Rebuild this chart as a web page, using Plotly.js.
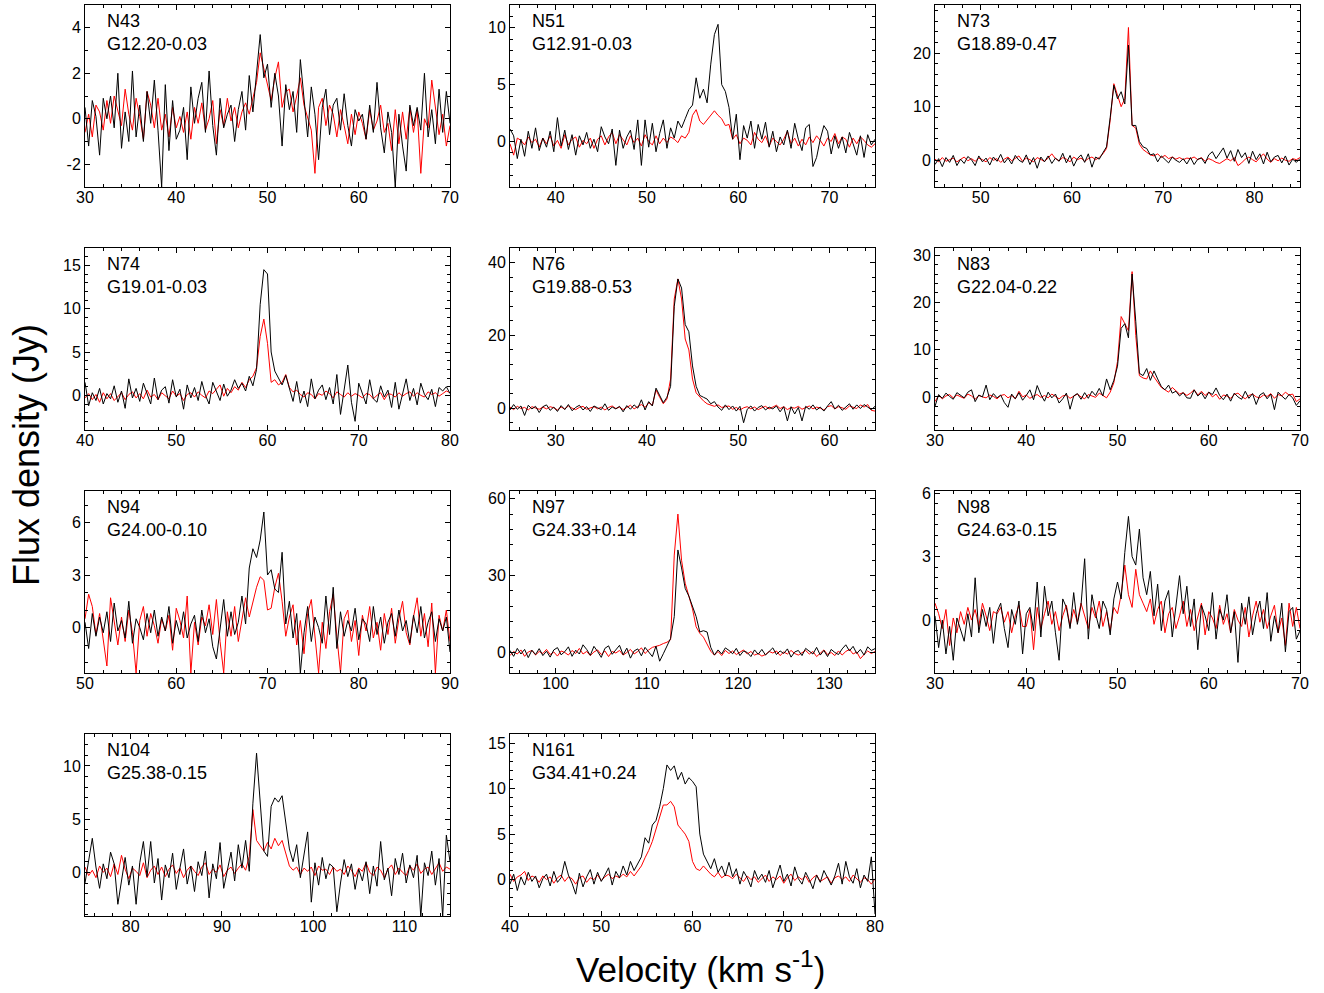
<!DOCTYPE html>
<html>
<head>
<meta charset="utf-8">
<script src="https://cdn.plot.ly/plotly-3.0.1.min.js"></script>
<style>html,body{margin:0;padding:0;background:#fff;}#chart{width:1324px;height:993px;}</style>
</head>
<body>
<div id="chart"></div>
<script>
// ---------------- DATA ----------------
const sourceNames = ['N43','N51','N73','N74','N76','N83','N94','N97','N98','N104','N161'];
const sourceGlon  = ['G12.20-0.03','G12.91-0.03','G18.89-0.47','G19.01-0.03','G19.88-0.53','G22.04-0.22','G24.00-0.10','G24.33+0.14','G24.63-0.15','G25.38-0.15','G34.41+0.24'];
// first channel velocity (km/s) of each spectrum, channel width 0.4 km/s
const velStart = [30,35,45,40,25,30,50,95,30,75,40];
const velStep = 0.4;
const xRanges = [[30,70],[35,75],[45,85],[40,80],[25,65],[30,70],[50,90],[95,135],[30,70],[75,115],[40,80]];
const yRanges = [[-3,5],[-4,12],[-5,29],[-4,17],[-6,44],[-7,31.5],[-2.6,7.8],[-8,63],[-2.5,6.1],[-4.1,13],[-4,16]];
const yTickVals = [[-2,0,2,4],[0,5,10],[0,10,20],[0,5,10,15],[0,20,40],[0,10,20,30],[0,3,6],[0,30,60],[0,3,6],[0,5,10],[0,5,10,15]];
const yMinorStep = [1,1,2,1,4,2,1,6,0.5,1,1];

const black_N43 = [0.5,-1.2,0.8,0.1,-1.6,0.9,0.0,1.0,-0.4,2.0,
-1.3,0.3,-1.0,2.1,-0.8,0.6,-1.0,1.2,-0.2,1.7,
-0.5,-3.0,1.5,-1.4,0.8,-0.9,-0.5,0.5,-1.8,1.4,
-0.2,0.9,1.6,-0.6,2.1,-0.3,-1.6,0.9,-0.4,0.2,
0.6,-1.0,0.4,1.2,-0.5,1.9,0.3,2.0,3.7,1.8,
2.4,0.5,2.0,1.0,-1.2,1.5,0.4,1.2,-0.6,2.6,
0.8,-0.8,1.4,0.2,-1.8,0.5,1.3,-0.7,0.6,0.9,
-0.5,1.1,-0.3,-1.2,0.4,-0.1,0.2,-0.9,0.6,-0.6,
1.6,-0.4,-1.5,0.3,-0.6,-3.0,0.2,-1.2,-2.3,0.6,
-0.3,0.5,-0.5,2.0,-0.8,0.4,-1.1,1.3,-0.6,1.2,
-0.2];
const red_N43 = [-0.6,0.2,-0.8,0.6,0.3,-0.5,0.8,-0.2,1.0,0.4,
-0.3,1.3,0.2,-0.5,0.9,0.1,-0.9,1.2,0.6,-0.4,
0.9,-0.5,0.2,-0.8,0.5,-0.4,0.1,-0.6,0.3,-0.9,
0.5,-0.2,0.7,-0.5,0.0,0.8,-1.1,0.4,-0.3,0.9,
-0.1,0.5,-0.4,0.3,0.7,0.2,0.9,1.6,2.9,2.2,
1.4,0.8,1.8,2.5,0.5,1.2,1.3,0.3,1.0,1.8,
0.6,0.1,-0.5,-2.4,0.5,0.9,-0.3,0.6,0.2,-0.8,
0.4,-0.3,-1.1,0.2,-0.7,0.3,-0.2,-0.9,0.4,-0.5,
-0.1,0.6,-0.6,-0.2,-1.4,0.4,-1.1,0.3,-0.9,0.5,
-0.6,0.4,-2.4,0.0,-0.4,1.7,0.5,-0.7,0.2,-1.2,
-0.3];

const black_N51 = [1.1,0.5,-1.5,0.2,-1.3,0.9,-0.6,1.2,-0.8,0.3,
-0.5,0.9,-0.9,2.1,-0.4,1.0,-0.7,0.6,-1.2,0.5,
-0.3,0.8,-0.6,0.2,-0.9,1.3,0.4,-0.2,1.1,-2.1,
1.0,-0.6,0.4,1.0,-0.7,1.9,-2.1,1.9,-0.5,1.6,
-0.9,0.7,1.9,-0.6,1.2,0.3,1.8,1.2,2.0,2.8,
3.2,5.6,3.8,4.6,3.4,6.8,9.4,10.3,5.0,4.4,
3.0,0.2,2.4,-1.6,1.4,0.3,1.8,-0.6,1.5,0.2,
1.7,-0.5,0.9,-0.9,0.4,-0.3,1.0,-0.6,1.6,0.2,
-0.8,1.2,1.5,-2.2,-1.4,0.2,1.4,0.9,-1.1,0.5,
-0.6,0.4,-1.0,0.8,-0.2,-1.2,0.5,-1.4,0.6,-0.3,
0.2];
const red_N51 = [-0.2,-1.2,0.3,0.1,-0.3,0.4,-0.1,0.2,-0.5,0.3,
-0.2,0.5,-0.4,0.1,-0.6,0.6,-0.3,0.2,0.4,-0.5,
0.1,-0.2,0.3,-0.6,0.2,0.5,-0.3,0.4,0.8,-0.2,
0.6,0.1,-0.3,0.5,-0.1,0.3,-0.4,0.6,0.0,-0.3,
0.5,-0.2,0.3,-0.1,0.4,0.2,-0.1,0.5,0.3,0.8,
2.3,2.8,1.8,1.5,1.9,2.4,2.7,2.3,2.0,1.4,
1.5,0.2,0.6,-0.2,0.3,0.1,-0.3,0.8,0.2,-0.1,
0.5,-0.4,0.3,0.0,-0.3,0.2,0.9,-0.2,0.3,-0.4,
0.2,-0.3,0.4,-0.1,0.5,0.1,-0.4,0.3,0.0,0.7,
-0.2,0.4,0.2,-0.5,0.3,-0.2,0.4,0.1,-0.3,-0.5,
-0.2];

const black_N73 = [-0.8,0.3,-1.2,0.5,-0.4,0.9,-1.0,0.2,-0.6,0.7,
0.1,-1.0,0.8,-0.3,0.4,-0.9,0.6,-0.2,1.1,-0.5,
0.4,-0.7,0.9,0.0,-0.4,1.0,-0.8,0.5,-1.5,0.6,
-0.3,0.8,-0.6,0.4,-0.2,1.3,-0.5,0.9,-1.1,0.3,
1.0,-0.4,1.2,-1.3,0.6,0.2,1.4,2.5,8.0,14.0,
11.5,12.8,10.5,21.5,6.5,6.5,3.5,2.5,2.2,1.0,
1.2,-0.3,0.8,0.2,-0.5,0.6,0.0,-0.4,0.3,-0.7,
0.5,-0.8,0.2,0.4,-0.6,1.0,1.6,0.3,1.2,2.3,
0.4,1.8,-0.2,2.0,0.5,1.4,-0.6,1.7,0.1,1.2,
-0.7,1.5,-0.3,0.6,0.9,-0.5,0.8,-0.9,0.2,-0.4,
0.3];
const red_N73 = [0.2,-0.3,0.5,-0.2,0.1,0.4,-0.3,0.2,0.6,-0.1,
0.3,-0.2,0.4,0.1,-0.3,0.5,0.0,0.3,-0.4,0.2,
0.6,-0.1,0.3,0.8,-0.2,0.4,0.1,-0.3,0.5,0.2,
-0.2,0.4,1.2,0.3,-0.1,0.5,0.2,-0.3,0.6,0.1,
0.4,-0.2,0.3,0.6,0.1,0.5,1.2,2.2,7.5,14.3,
12.0,10.0,11.5,24.8,6.5,6.0,3.0,2.0,1.5,1.0,
0.8,1.2,0.5,0.9,0.3,0.6,0.2,0.5,0.1,0.4,
0.3,0.6,0.1,0.5,-0.2,0.3,0.0,-0.4,-0.6,-0.2,
0.3,-0.1,0.5,-1.0,-0.5,0.2,0.6,0.1,-0.3,0.5,
1.2,0.2,-0.4,0.3,-0.1,0.4,0.0,-0.2,0.3,0.1,
0.5];

const black_N74 = [1.5,-1.2,0.3,-0.6,0.8,-1.0,0.2,-0.4,1.1,-0.8,
0.5,-1.5,1.9,-0.3,0.8,-0.7,1.4,0.2,-1.0,2.0,
-0.5,0.6,1.0,-0.9,1.8,-0.2,0.7,-1.6,1.2,-0.3,
0.9,-0.6,1.6,0.0,-1.0,1.5,0.4,-0.6,1.3,-0.1,
0.6,1.8,0.8,1.4,0.5,2.2,1.1,3.0,10.5,14.5,
14.0,5.0,2.8,2.0,1.2,2.3,0.8,-0.7,1.6,-0.9,
0.5,-1.3,1.9,-0.4,0.6,1.2,-0.5,0.9,-1.0,2.4,
-2.2,0.7,3.5,-0.8,-3.0,1.4,0.2,-1.0,1.8,-0.4,
-0.8,1.1,-0.2,0.6,-1.4,1.5,-1.6,0.3,1.9,-0.6,
0.8,-1.1,1.4,0.1,-0.5,0.7,-1.3,0.9,0.5,1.0,
0.2];
const red_N74 = [-0.3,0.2,-0.5,0.1,-0.8,0.3,-0.4,0.2,-0.6,-0.2,
0.3,-0.5,0.1,0.4,-0.3,0.2,-0.4,0.6,-0.2,0.1,
-0.5,0.3,0.0,-0.4,0.5,-0.1,0.2,-0.6,0.1,0.3,
-0.2,0.4,0.0,-0.3,0.5,0.2,0.7,1.2,-0.1,0.8,
0.3,1.0,0.6,1.5,0.9,1.8,2.2,3.2,6.8,8.8,
6.0,1.5,1.8,1.2,1.5,2.4,0.9,0.4,0.6,0.1,
-0.2,0.3,0.1,-0.4,0.2,0.0,0.5,0.2,-0.3,0.4,
0.1,-0.2,0.3,-0.1,0.2,0.0,-0.3,0.2,0.1,-0.4,
0.0,0.3,-0.5,0.2,0.1,-0.2,0.3,-0.1,0.2,0.4,
-0.1,0.3,0.0,-0.2,0.4,0.1,0.3,-0.1,0.2,0.5,
0.3];

const black_N76 = [-0.5,1.0,-0.3,0.6,-2.0,0.8,-0.2,0.5,-1.2,0.4,
0.9,-0.6,0.3,-0.9,0.7,-0.4,1.0,-0.7,0.2,0.8,
-0.5,0.4,-0.9,0.6,0.1,-0.4,1.2,-0.6,0.3,-0.2,
0.5,-1.0,0.7,-0.3,0.9,0.0,2.3,-0.5,1.8,0.6,
5.5,3.5,1.5,3.0,6.0,28.0,35.5,33.0,23.0,21.0,
11.6,6.0,3.5,3.0,2.5,1.2,1.8,0.3,-0.6,0.9,
-0.4,0.6,-0.8,0.5,-4.0,-0.3,0.6,-0.8,0.2,0.7,
-0.5,0.3,-0.2,0.6,-1.0,0.4,-3.5,0.4,-1.6,0.2,
-3.5,0.5,-0.3,0.9,-0.5,0.3,-0.8,0.6,1.8,-0.2,
0.8,-0.6,0.4,1.2,-0.3,0.9,-0.1,1.0,0.3,-0.4,
0.5];
const red_N76 = [0.3,-0.4,0.5,-0.1,0.2,-0.5,0.4,0.0,-0.3,0.3,
-0.2,0.4,0.1,-0.5,0.3,-0.2,0.6,0.0,-0.4,0.2,
0.5,-0.3,0.1,0.4,-0.2,0.3,-0.5,0.2,0.6,-0.1,
0.3,-0.4,0.2,0.8,-0.2,0.5,1.0,0.2,1.5,0.8,
5.0,3.0,1.2,2.5,8.0,30.0,35.5,30.0,19.0,16.0,
8.0,4.2,3.0,2.0,1.2,0.8,0.5,0.9,0.2,0.4,
0.6,-0.3,0.2,-0.5,0.1,0.4,-0.2,0.3,-0.4,0.1,
0.5,-0.2,0.3,0.8,-0.1,0.4,-0.4,0.2,0.0,0.5,
-0.3,0.2,0.6,-0.2,0.3,0.0,-0.5,0.4,0.7,-0.2,
0.4,0.1,-0.3,0.6,0.2,-0.1,0.9,0.3,1.0,-0.6,
-0.8];

const black_N83 = [-2.0,0.5,-0.3,0.8,0.1,-0.5,0.9,0.3,-0.2,1.0,
1.5,-1.0,0.4,0.0,2.5,-0.6,0.7,-0.2,0.4,-1.2,
-2.2,0.6,-0.4,0.9,-0.7,0.3,1.5,-0.6,2.4,0.5,
-0.9,1.0,-0.2,0.6,-1.3,-0.4,0.8,-2.6,0.2,0.7,
-0.5,0.9,-0.3,1.2,0.3,1.8,0.2,3.8,1.5,3.5,
6.5,14.5,15.5,12.5,26.0,16.0,5.0,4.5,6.0,3.5,
5.5,3.8,2.2,1.5,2.5,0.8,1.2,0.2,0.9,-0.2,
-0.3,1.5,0.2,0.9,-0.4,1.0,0.5,1.9,0.3,-0.6,
0.6,-0.9,0.8,0.0,-0.5,1.2,-0.3,0.7,-1.6,0.4,
0.9,-0.4,0.6,-2.7,1.0,0.2,-0.5,0.5,-0.2,-1.8,
-0.8];
const red_N83 = [-1.0,0.3,-0.4,0.2,0.5,-0.2,0.4,0.1,-0.3,0.6,
0.2,-0.5,0.3,0.0,-0.2,0.4,0.1,-0.4,0.3,0.5,
-0.2,0.3,-0.4,1.2,0.0,0.4,-0.3,0.2,0.5,-0.1,
0.3,-0.2,0.6,0.1,-0.4,0.2,0.4,-0.3,0.1,0.6,
0.0,-0.4,0.5,0.2,-0.1,0.8,0.3,-0.2,1.0,3.0,
7.5,17.0,15.5,14.0,26.5,13.0,4.5,4.0,3.8,5.5,
4.2,3.0,2.0,1.5,1.0,2.0,1.2,0.6,0.9,0.3,
0.8,1.5,0.4,1.2,0.3,1.0,0.0,0.6,-0.5,0.4,
0.2,-0.3,0.5,0.8,0.1,-0.4,0.3,0.6,0.0,-0.2,
0.4,0.1,0.7,-0.3,0.5,0.2,1.0,0.4,0.6,-1.0,
-0.4];

const black_N94 = [0.3,-1.2,0.8,-0.5,0.6,-0.3,0.9,-0.8,1.4,-0.2,
0.4,-0.6,1.5,-0.9,0.5,0.0,-0.7,0.8,-0.3,1.0,
-0.5,0.6,-0.2,1.2,-0.9,0.4,-0.4,0.9,-0.6,0.2,
0.7,-0.8,1.0,-0.3,0.5,-1.1,-1.8,0.0,1.6,-0.5,
0.9,-0.4,0.3,1.8,0.2,3.4,4.5,4.0,5.0,6.6,
3.0,3.3,2.2,2.0,4.3,0.2,1.5,-0.6,0.8,-2.6,
-0.3,1.2,-0.8,0.6,0.0,-0.9,1.8,-0.4,2.3,-1.2,
0.9,-0.5,0.4,-0.2,1.1,-0.7,0.5,0.2,-0.8,1.2,
-0.4,0.6,-0.9,0.3,0.8,-0.5,1.0,-0.2,0.4,-0.9,
0.7,-0.3,1.2,-0.6,0.3,0.9,-0.8,0.5,-0.2,0.6,
-1.4];
const red_N94 = [0.5,1.9,1.2,-0.4,0.8,-0.6,-2.2,1.7,0.3,-1.0,
0.6,-0.8,1.0,-0.3,-2.6,0.4,1.2,-0.5,0.8,0.1,
-0.9,0.5,-0.2,0.7,-1.3,1.1,0.4,-0.6,1.8,-2.6,
0.3,-1.0,0.6,0.1,1.3,-0.4,1.6,-0.8,-2.6,0.9,
-0.5,1.2,-0.8,0.5,1.7,0.6,1.5,2.3,2.9,2.7,
1.0,1.1,2.3,3.1,1.5,-0.5,0.6,1.3,-1.0,0.4,
-1.5,0.8,1.6,-0.6,-2.6,0.3,-1.2,0.9,1.9,-0.5,
-2.6,0.5,1.0,-0.8,0.4,-1.6,0.7,-0.2,1.2,-0.6,
0.3,-1.3,0.8,-0.4,1.1,-0.9,0.5,1.5,-0.3,-1.0,
0.6,1.7,-0.5,0.8,-1.1,1.4,-2.6,0.7,-0.2,1.0,
-0.8];

const black_N97 = [0.8,-1.5,1.6,-0.6,1.2,-2.0,0.9,-0.8,1.5,-1.2,
0.5,-1.8,1.0,1.9,-0.9,0.3,2.2,-1.5,0.9,-0.6,
3.0,1.2,-1.1,2.4,0.4,-1.9,1.6,2.6,-0.7,1.0,
2.8,-0.9,1.7,-2.2,0.6,1.4,-1.3,2.0,0.3,-1.6,
2.5,-3.4,-0.5,2.5,5.5,14.0,40.0,33.0,25.0,22.0,
18.0,14.0,8.0,8.5,8.0,2.0,-1.0,1.0,-0.6,1.8,
0.8,-0.5,1.6,-1.2,0.6,0.0,-1.6,1.0,-0.7,1.2,
-1.0,0.4,1.8,-0.8,0.6,-0.4,1.4,-1.8,0.2,0.8,
-1.2,1.6,0.4,-0.6,2.0,-1.0,0.8,-1.6,1.2,0.0,
-0.8,1.4,3.0,0.6,2.4,-0.4,1.2,-1.0,2.2,0.8,
1.5];
const red_N97 = [-1.2,0.4,-0.6,1.0,-1.5,0.2,0.8,-1.0,0.4,-0.4,
1.2,-0.8,0.2,-1.4,0.6,0.0,-1.0,0.8,-0.4,1.6,
-0.6,0.4,-1.2,0.2,1.0,-0.8,0.6,-1.6,0.4,-0.2,
0.8,-1.0,0.0,1.2,-0.6,0.4,1.8,-0.4,1.0,2.0,
2.4,2.8,3.5,4.0,5.0,38.0,54.0,36.0,27.0,22.0,
17.0,10.0,7.5,6.0,3.0,0.5,-1.0,0.4,-1.2,0.8,
-0.4,0.6,-0.8,0.2,1.0,-0.6,0.4,-1.0,-0.4,-1.4,
-0.8,0.4,-0.2,0.6,-1.2,0.2,-0.6,0.8,-0.4,-1.0,
-0.2,0.8,-0.6,0.4,-1.6,-0.4,1.0,-0.8,0.0,-1.2,
0.6,-1.0,0.4,1.2,-0.6,0.2,-2.4,-0.8,0.6,-0.4,
0.4];

const black_N98 = [0.2,-1.3,0.0,-1.6,-0.3,-1.9,0.1,-0.5,-1.0,0.3,
-0.8,2.0,-0.6,0.5,-0.3,0.6,-1.1,0.4,0.8,-0.4,
-1.3,0.5,-0.2,0.9,-1.6,0.3,0.6,-0.5,1.8,-0.8,
1.6,0.2,0.9,-0.6,-1.9,1.0,0.6,-0.4,1.3,-0.2,
0.7,2.9,-0.9,1.2,0.3,-0.4,0.9,0.5,-0.7,1.0,
1.8,1.0,3.2,4.9,3.0,2.6,4.3,2.0,1.2,2.3,
0.2,1.7,-0.5,0.9,1.4,-0.8,0.6,2.1,0.3,1.6,
-0.3,1.0,-1.4,0.7,0.2,-0.5,1.3,-0.9,0.5,0.0,
1.2,-0.6,0.4,-2.0,0.8,-0.2,1.1,-0.7,0.3,0.9,
-0.4,1.3,-1.0,0.2,-0.6,0.8,-1.5,0.4,0.6,-0.9,
-0.5];
const red_N98 = [0.8,0.3,-0.4,0.5,-1.2,0.1,-0.6,0.4,-0.2,0.6,
0.0,0.5,-0.3,0.8,0.2,-0.5,0.4,0.3,0.6,-0.1,
0.4,-0.6,0.2,0.7,-0.3,-0.3,0.5,-1.4,0.6,-0.4,
0.3,0.9,-0.2,0.4,-0.5,0.2,0.7,-0.3,0.5,-0.1,
0.8,0.2,-0.4,0.6,0.1,0.9,-0.3,0.4,-0.5,0.6,
0.3,1.2,2.6,1.2,0.6,2.4,1.2,0.8,0.4,1.0,
-0.2,0.5,0.9,-0.6,0.3,0.6,-0.4,0.2,0.9,-0.3,
0.5,-0.5,0.2,0.8,-0.7,0.4,0.1,-0.4,0.7,-0.2,
0.3,-0.6,0.5,0.0,-0.3,0.6,-0.8,0.2,0.9,-0.1,
0.5,-0.4,0.2,0.7,-0.6,0.1,-1.2,0.8,-0.3,0.6,
-0.4];

const black_N104 = [-1.0,1.2,3.2,0.5,-1.5,0.8,-0.6,1.9,0.8,-3.0,
-0.8,1.4,-1.2,0.6,-3.0,0.9,2.9,-0.4,2.9,-1.0,
1.3,-2.6,0.7,-0.5,1.8,-1.6,0.4,2.2,-1.1,0.6,
-1.8,1.0,-0.3,2.0,-2.4,0.8,-0.6,2.8,-1.5,0.2,
1.9,-0.8,2.6,0.4,3.0,0.1,6.5,11.2,7.0,2.0,
1.5,6.2,7.0,6.6,7.2,4.5,2.2,1.0,2.6,-0.5,
1.5,3.8,-2.8,0.9,-1.2,1.4,-0.6,0.8,0.5,-3.7,
-1.0,1.2,-0.4,0.8,-1.6,0.3,-0.8,1.0,-2.0,0.6,
-1.3,2.9,-0.7,0.4,-2.2,1.3,-0.2,1.8,-1.0,0.7,
-0.5,1.6,-4.2,0.9,-0.3,2.0,-1.2,1.3,-4.2,3.5,
1.0];
const red_N104 = [0.5,-0.3,0.2,-0.5,0.6,0.0,0.4,-0.4,0.8,-0.2,
1.6,0.3,-0.6,0.4,0.1,-0.3,0.9,-0.5,0.2,0.6,
-0.2,0.5,-0.4,0.3,0.7,-0.1,0.4,-0.5,0.2,0.6,
0.1,-0.3,0.5,0.9,-0.2,0.3,0.0,0.7,-0.4,0.2,
0.5,-0.1,0.4,0.8,0.2,1.5,5.9,3.0,2.5,2.0,
2.8,2.2,3.2,2.5,3.0,1.8,0.6,0.2,0.5,-0.2,
0.4,0.1,0.5,-0.3,0.6,0.2,0.3,-0.2,0.5,0.1,
0.3,-0.2,0.6,0.2,-0.4,0.4,0.1,0.9,0.0,-0.3,
0.5,0.2,-0.5,0.3,0.7,-0.2,0.4,0.0,-0.3,0.6,
0.2,0.8,-0.1,0.3,0.5,-0.2,0.4,0.9,0.1,0.5,
0.3];

const black_N161 = [-0.5,0.6,-1.2,0.3,-0.6,0.8,-0.2,0.4,-0.9,0.1,
0.6,-0.7,0.9,-0.3,0.2,2.0,0.5,-0.4,-1.6,0.7,
-0.8,0.3,1.1,-0.5,0.8,-0.2,0.5,1.3,-0.6,0.9,
0.2,1.5,0.5,2.0,1.0,1.8,2.5,4.6,4.0,6.0,
6.5,8.0,10.0,12.6,12.0,12.5,11.0,11.8,10.5,11.2,
10.8,10.2,5.0,2.8,2.0,1.2,2.3,0.8,1.5,0.4,
1.9,0.3,1.2,-0.5,0.9,0.2,-0.8,1.0,0.0,0.6,
-0.3,1.0,-0.9,0.4,1.6,-0.2,0.6,-0.7,1.4,0.1,
-0.5,0.8,0.0,-1.0,0.5,-0.3,1.0,0.2,-0.6,0.4,
1.8,-0.5,2.0,0.3,-0.4,1.2,-0.9,0.5,-0.2,2.5,
-3.8];
const red_N161 = [0.6,-0.2,0.3,0.5,0.9,-0.1,0.4,0.2,-0.3,0.4,
0.0,0.3,-0.4,0.2,0.5,-0.2,0.3,0.1,-0.5,0.2,
0.4,-0.3,0.2,0.0,0.5,-0.1,0.3,0.6,0.1,0.4,
0.2,0.6,0.3,0.9,0.4,1.0,1.5,2.4,3.2,4.2,
5.6,7.0,8.2,8.2,8.6,8.0,6.0,5.5,5.0,4.2,
2.0,1.2,1.0,1.5,1.0,0.6,0.3,0.8,0.2,0.5,
0.4,0.1,0.6,0.2,-0.2,0.4,0.0,0.3,-0.3,0.1,
0.5,-0.2,0.3,0.0,0.4,-0.4,0.2,0.6,-0.1,0.3,
0.0,0.4,-0.3,0.2,0.5,-0.2,0.1,0.3,-0.4,0.2,
0.4,0.0,0.3,-0.2,0.5,0.1,-0.3,0.2,0.0,-0.5,
0.1];

const blackSeries = [black_N43,black_N51,black_N73,black_N74,black_N76,black_N83,black_N94,black_N97,black_N98,black_N104,black_N161];
const redSeries   = [red_N43,red_N51,red_N73,red_N74,red_N76,red_N83,red_N94,red_N97,red_N98,red_N104,red_N161];

// ---------------- LAYOUT ----------------
const W = 1324, H = 993;
const colPx = [[85,450],[510,875],[935,1300]];
const rowPx = [[5,187],[248,430],[491,673],[734,916]];
const FONT = 'Arial, "Liberation Sans", sans-serif';

const traces = [];
const layout = {
  width: W, height: H,
  margin: {l:0, r:0, t:0, b:0, pad:0},
  paper_bgcolor: '#fff', plot_bgcolor: '#fff',
  showlegend: false,
  font: {family: FONT, color: '#000'},
  annotations: []
};

sourceNames.forEach((name, i) => {
  const n = i === 0 ? '' : String(i + 1);
  const col = i % 3, row = Math.floor(i / 3);
  const [l, r] = colPx[col];
  const [t, b] = rowPx[row];
  const vel = blackSeries[i].map((_, k) => +(velStart[i] + k * velStep).toFixed(2));
  traces.push({x: vel, y: redSeries[i], type: 'scatter', mode: 'lines',
    line: {color: '#ff0000', width: 1}, xaxis: 'x' + n, yaxis: 'y' + n, hoverinfo: 'skip'});
  traces.push({x: vel, y: blackSeries[i], type: 'scatter', mode: 'lines',
    line: {color: '#000000', width: 1}, xaxis: 'x' + n, yaxis: 'y' + n, hoverinfo: 'skip'});

  const common = {
    showline: true, linecolor: '#000', linewidth: 1, mirror: 'allticks',
    ticks: 'inside', ticklen: 5, tickwidth: 1, tickcolor: '#000',
    showgrid: false, zeroline: false, fixedrange: true,
    tickfont: {family: FONT, size: 16, color: '#000'}
  };
  layout['xaxis' + n] = Object.assign({}, common, {
    domain: [l / W, r / W], range: xRanges[i], anchor: 'y' + n,
    tickmode: 'linear', tick0: 0, dtick: 10, ticklabelstandoff: -4,
    minor: {ticks: 'inside', ticklen: 3, tickcolor: '#000', tickmode: 'linear', tick0: 0, dtick: 2, showgrid: false}
  });
  layout['yaxis' + n] = Object.assign({}, common, {
    domain: [1 - b / H, 1 - t / H], range: yRanges[i], anchor: 'x' + n,
    tickmode: 'array', tickvals: yTickVals[i], ticktext: yTickVals[i].map(v => String(v)),
    minor: {ticks: 'inside', ticklen: 3, tickcolor: '#000', tickmode: 'linear', tick0: 0, dtick: yMinorStep[i], showgrid: false}
  });
  layout.annotations.push({xref: 'paper', yref: 'paper', x: (l + 20) / W, y: 1 - (t + 16) / H,
    xanchor: 'left', yanchor: 'middle', showarrow: false, text: name,
    font: {family: FONT, size: 18, color: '#000'}});
  layout.annotations.push({xref: 'paper', yref: 'paper', x: (l + 20) / W, y: 1 - (t + 39) / H,
    xanchor: 'left', yanchor: 'middle', showarrow: false, text: sourceGlon[i],
    font: {family: FONT, size: 18, color: '#000'}});
});

layout.annotations.push({xref: 'paper', yref: 'paper', x: 27 / W, y: 1 - 455 / H,
  xanchor: 'center', yanchor: 'middle', showarrow: false, textangle: -90,
  text: 'Flux density (Jy)', font: {family: FONT, size: 36, color: '#000'}});
layout.annotations.push({xref: 'paper', yref: 'paper', x: 700 / W, y: 1 - 967 / H,
  xanchor: 'center', yanchor: 'middle', showarrow: false,
  text: 'Velocity (km s<sup>-1</sup>)', font: {family: FONT, size: 35, color: '#000'}});

Plotly.newPlot('chart', traces, layout, {staticPlot: true, displayModeBar: false});
</script>
</body>
</html>
